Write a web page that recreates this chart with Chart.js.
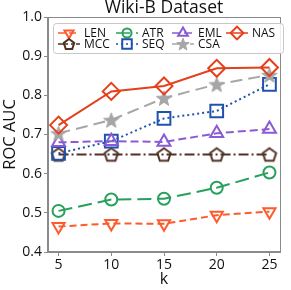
<!DOCTYPE html>
<html><head><meta charset="utf-8">
<script src="https://cdn.jsdelivr.net/npm/chart.js@4.4.1/dist/chart.umd.min.js"></script>
<style>html,body{margin:0;padding:0;background:#fff;overflow:hidden}#wrap{width:291px;height:290px}</style>
</head><body><div id="wrap"><canvas id="c" width="291" height="290"></canvas></div>
<script>
const kValues = [5, 10, 15, 20, 25];
const seriesNames = ['LEN', 'MCC', 'ATR', 'SEQ', 'EML', 'CSA', 'NAS'];
const LEN = [0.465, 0.473, 0.472, 0.494, 0.503];
const MCC = [0.649, 0.649, 0.649, 0.649, 0.649];
const ATR = [0.505, 0.534, 0.536, 0.564, 0.603];
const SEQ = [0.652, 0.683, 0.741, 0.760, 0.828];
const EML = [0.680, 0.683, 0.681, 0.703, 0.714];
const CSA = [0.703, 0.737, 0.793, 0.828, 0.852];
const NAS = [0.724, 0.810, 0.824, 0.869, 0.871];
const yTicks = [0.4, 0.5, 0.6, 0.7, 0.8, 0.9, 1.0];
const titleText = 'Wiki-B Dataset';
const xTitle = 'k';
const yTitle = 'ROC AUC';

const FONT = "'Open Sans', 'DejaVu Sans', sans-serif";

function makeCanvas(size, drawFn) {
  const c = document.createElement('canvas');
  c.width = size; c.height = size;
  const g = c.getContext('2d');
  drawFn(g, size / 2);
  return c;
}
function pentagon(color, r, size) {
  return makeCanvas(size, (g, m) => {
    g.beginPath();
    for (let i = 0; i < 5; i++) {
      const a = -Math.PI / 2 + i * 2 * Math.PI / 5;
      const px = m + r * Math.cos(a), py = m + r * Math.sin(a) + r * 0.1;
      i ? g.lineTo(px, py) : g.moveTo(px, py);
    }
    g.closePath();
    g.lineWidth = 2; g.strokeStyle = color; g.stroke();
  });
}
function star(color, r, size) {
  return makeCanvas(size, (g, m) => {
    g.beginPath();
    for (let i = 0; i < 10; i++) {
      const a = -Math.PI / 2 + i * Math.PI / 5;
      const rr = i % 2 ? r * 0.42 : r;
      const px = m + rr * Math.cos(a), py = m + rr * Math.sin(a) + r * 0.1;
      i ? g.lineTo(px, py) : g.moveTo(px, py);
    }
    g.closePath();
    g.fillStyle = color; g.fill();
    g.lineWidth = 1; g.strokeStyle = color; g.stroke();
  });
}

const colors = {
  LEN: '#ff5a2c', MCC: '#4f3126', ATR: '#27a05c', SEQ: '#1f52ad',
  EML: '#8b5bd6', CSA: '#a6a6a6', NAS: '#e4401c'
};
const styleOf = {
  LEN: { dash: [7, 4], pointStyle: 'triangle', rotation: 180, radius: 7 },
  MCC: { dash: [10, 3, 2, 3], pointStyle: pentagon(colors.MCC, 7, 20), legendImg: pentagon(colors.MCC, 5.5, 16), radius: 8 },
  ATR: { dash: [14, 6], pointStyle: 'circle', rotation: 0, radius: 6 },
  SEQ: { dash: [2, 3], pointStyle: 'rect', rotation: 0, radius: 9 },
  EML: { dash: [8, 4], pointStyle: 'triangle', rotation: 0, radius: 7.5 },
  CSA: { dash: [12, 6], pointStyle: star(colors.CSA, 8, 20), legendImg: star(colors.CSA, 6.5, 16), radius: 8 },
  NAS: { dash: [], pointStyle: 'rectRot', rotation: 0, radius: 8.5 }
};
const valuesOf = { LEN, MCC, ATR, SEQ, EML, CSA, NAS };

const datasets = seriesNames.map((name, i) => ({
  label: name,
  data: kValues.map((k, j) => ({ x: k, y: valuesOf[name][j] })),
  borderColor: colors[name],
  backgroundColor: 'rgba(0,0,0,0)',
  borderWidth: 2,
  borderDash: styleOf[name].dash,
  pointStyle: styleOf[name].pointStyle,
  rotation: styleOf[name].rotation || 0,
  pointRadius: styleOf[name].radius,
  pointHoverRadius: styleOf[name].radius,
  pointBorderWidth: 2,
  pointBorderColor: colors[name],
  pointBackgroundColor: 'rgba(0,0,0,0)',
  tension: 0,
  fill: false,
  order: seriesNames.length - i,
  clip: false
}));

const framePlugin = {
  id: 'frameLegend',
  afterDatasetsDraw(chart) {
    const ctx = chart.ctx, a = chart.chartArea;
    ctx.save();
    ctx.setLineDash([]);
    ctx.strokeStyle = '#8a8a8a';
    ctx.lineWidth = 1;
    ctx.strokeRect(Math.round(a.left) - 0.5, Math.round(a.top) + 0.5, Math.round(a.right - a.left) + 1, Math.round(a.bottom - a.top) - 1);

    // legend box
    const bx = 53.5, by = 23.5, bw = 230, bh = 30, br = 3;
    ctx.beginPath();
    ctx.moveTo(bx + br, by);
    ctx.arcTo(bx + bw, by, bx + bw, by + bh, br);
    ctx.arcTo(bx + bw, by + bh, bx, by + bh, br);
    ctx.arcTo(bx, by + bh, bx, by, br);
    ctx.arcTo(bx, by, bx + bw, by, br);
    ctx.closePath();
    ctx.fillStyle = 'rgba(255,255,255,0.85)';
    ctx.fill();
    ctx.strokeStyle = '#c8c8c8';
    ctx.stroke();

    const cols = [69, 127, 183, 237], rows = [33, 44];
    chart.data.datasets.forEach((ds, i) => {
      const cx = cols[Math.floor(i / 2)], cy = rows[i % 2];
      const st = styleOf[ds.label];
      ctx.setLineDash(ds.borderDash);
      ctx.strokeStyle = ds.borderColor;
      ctx.lineWidth = 1.5;
      ctx.beginPath();
      ctx.moveTo(cx - 11, cy); ctx.lineTo(cx + 11, cy);
      ctx.stroke();
      ctx.setLineDash([]);
      if (st.legendImg) {
        ctx.drawImage(st.legendImg, cx - 8, cy - 8);
      } else {
        ctx.fillStyle = 'rgba(0,0,0,0)';
        ctx.lineWidth = 2;
        Chart.helpers.drawPoint(ctx, {
          pointStyle: st.pointStyle, rotation: st.rotation || 0,
          radius: st.radius * 0.75, borderWidth: 2
        }, cx, cy);
      }
      ctx.fillStyle = '#111';
      ctx.font = '12px ' + FONT;
      ctx.textBaseline = 'middle';
      ctx.textAlign = 'left';
      ctx.fillText(ds.label, cx + 15, cy + 0.5);
    });
    ctx.restore();
  }
};

new Chart(document.getElementById('c'), {
  type: 'line',
  data: { datasets },
  options: {
    responsive: false,
    devicePixelRatio: 1,
    animation: false,
    layout: { padding: { left: 0, right: 5, top: 0, bottom: 0 } },
    plugins: {
      legend: { display: false },
      tooltip: { enabled: false },
      title: {
        display: true, text: titleText, fullSize: false,
        color: '#111',
        font: { family: FONT, size: 17.5, weight: 'normal', lineHeight: '17px' },
        padding: { top: 0, bottom: 0 }
      }
    },
    scales: {
      x: {
        type: 'linear', min: 4, max: 26,
        afterBuildTicks: s => { s.ticks = kValues.map(v => ({ value: v })); },
        afterFit: s => { s.height = 38; },
        grid: { display: true, drawOnChartArea: false, drawTicks: true, tickLength: 4, color: '#8a8a8a' },
        border: { display: true, color: '#8a8a8a' },
        ticks: { color: '#111', padding: 1, font: { family: FONT, size: 14 }, maxRotation: 0 },
        title: { display: true, text: xTitle, color: '#111', font: { family: FONT, size: 16 }, padding: { top: 0, bottom: 1 } }
      },
      y: {
        type: 'linear', min: 0.4, max: 1.0,
        afterBuildTicks: s => { s.ticks = yTicks.map(v => ({ value: v })); },
        afterFit: s => { s.width = 48; },
        grid: { display: true, drawOnChartArea: false, drawTicks: true, tickLength: 4, color: '#8a8a8a' },
        border: { display: true, color: '#8a8a8a' },
        ticks: { color: '#111', padding: 2, font: { family: FONT, size: 14 }, callback: v => v.toFixed(1) },
        title: { display: true, text: yTitle, color: '#111', font: { family: FONT, size: 16.5 }, padding: { top: 0, bottom: 0 } }
      }
    }
  },
  plugins: [framePlugin]
});
</script>
</body></html>
